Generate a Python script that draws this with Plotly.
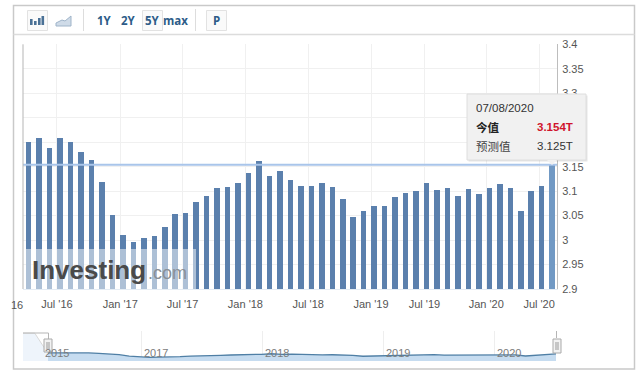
import plotly.graph_objects as go

W, H = 640, 375

# ---- data ----
bar_values = [
    3.199, 3.207, 3.188, 3.207, 3.199, 3.179, 3.164, 3.119, 3.051, 3.010,
    2.996, 3.004, 3.008, 3.027, 3.053, 3.055, 3.078, 3.090, 3.105, 3.108,
    3.117, 3.137, 3.160, 3.131, 3.141, 3.123, 3.109, 3.109, 3.115, 3.108,
    3.084, 3.047, 3.059, 3.068, 3.068, 3.088, 3.096, 3.100, 3.117, 3.102,
    3.106, 3.090, 3.104, 3.094, 3.106, 3.113, 3.106, 3.059, 3.100, 3.109,
    3.154,
]
bar_index = list(range(len(bar_values)))
tick_index = [2.7, 8.75, 14.7, 20.7, 26.7, 32.7, 37.8, 43.7, 48.75]
tick_labels = ["Jul '16", "Jan '17", "Jul '17", "Jan '18", "Jul '18",
               "Jan '19", "Jul '19", "Jan '20", "Jul '20"]
y_ticks = [2.9, 2.95, 3.0, 3.05, 3.1, 3.15, 3.2, 3.25, 3.3, 3.35, 3.4]
y_labels = ["2.9", "2.95", "3", "3.05", "3.1", "3.15", "", "", "3.3", "3.35", "3.4"]
nav_early_index = [-2.46, -1.3, -0.6, 0]
nav_early_values = [4.1, 4.1, 3.6, bar_values[0]]
nav_years = ["2015", "2017", "2018", "2019", "2020"]
nav_year_px = [57, 156, 277, 398, 509]
tip_date = "07/08/2020"
tip_actual = "3.154T"
tip_forecast = "3.125T"

# ---- pixel helpers (chrome only) ----
def px(x): return x / W
def py(y): return 1 - y / H

shapes, annos = [], []

def rect(x0, y0, x1, y1, fill=None, line=None, lw=1, opacity=1, layer="above"):
    shapes.append(dict(type="rect", xref="paper", yref="paper",
                       x0=px(x0), x1=px(x1), y0=py(y0), y1=py(y1),
                       fillcolor=fill or "rgba(0,0,0,0)",
                       line=dict(color=line or "rgba(0,0,0,0)", width=lw if line else 0),
                       opacity=opacity, layer=layer))

def seg(x0, y0, x1, y1, color, lw=1, layer="above"):
    shapes.append(dict(type="line", xref="paper", yref="paper",
                       x0=px(x0), x1=px(x1), y0=py(y0), y1=py(y1),
                       line=dict(color=color, width=lw), layer=layer))

def text(x, y, s, size=11, color="#555", bold=False, family="Liberation Sans, Arial", anchor="center", opacity=1):
    annos.append(dict(xref="paper", yref="paper", x=px(x), y=py(y), text=f"<b>{s}</b>" if bold else s,
                      showarrow=False, xanchor=anchor, yanchor="middle", opacity=opacity,
                      font=dict(size=size, color=color, family=family),
                      borderpad=0, borderwidth=0))

# outer frame
rect(13.5, 5.5, 634.5, 369, line="#c9c9c9", lw=1.5, layer="below")
seg(13.5, 34.5, 634.5, 34.5, "#dcdcdc", 1.5, "below")

# toolbar
NAVY = "#2d5c88"
rect(27.5, 10.5, 47.5, 30.5, fill="#fafafa", line="#e2e2e2")
for x0, y0 in [(30, 19), (34, 21), (38, 18), (41.5, 16)]:
    rect(x0, y0, x0 + 2.6, 25, fill="#4a7196")
shapes.append(dict(type="path", xref="paper", yref="paper",
                   path=f"M {px(56)} {py(23)} L {px(62)} {py(20)} L {px(65)} {py(21)} L {px(71)} {py(16)} L {px(71)} {py(26)} L {px(56)} {py(26)} Z",
                   fillcolor="#cfdbe8", line=dict(color="#9fb4c9", width=1)))
seg(83.5, 9, 83.5, 31, "#dddddd")
seg(195.5, 9, 195.5, 31, "#dddddd")
rect(142.5, 10.5, 162.5, 30.5, fill="#fafafa", line="#e2e2e2")
rect(206.5, 10.5, 226.5, 30.5, fill="#fafafa", line="#e2e2e2")
for x, s in [(104, "1Y"), (128, "2Y"), (152, "5Y"), (175, "max"), (216.5, "P")]:
    text(x, 20.5, s, size=11.5, color=NAVY, bold=True, family="Open Sans")

# watermark
rect(26, 249, 196, 289, fill="rgba(255,255,255,0.5)")
text(32, 270, "Investing", size=26, color="#4a4a4a", bold=True, anchor="left", family="Liberation Sans")
text(148, 273, ".com", size=18, color="#8a8f96", anchor="left", family="Liberation Sans")

# clipped first tick label
text(22.5, 305, "16", size=11, anchor="right")

# latest value line
shapes.append(dict(type="line", xref="paper", yref="y", x0=px(23), x1=px(557),
                   y0=bar_values[-1], y1=bar_values[-1],
                   line=dict(color="#a9c5ea", width=2), layer="above"))

# tooltip
rect(468.5, 95.5, 587.5, 161.5, fill="rgba(0,0,0,0.10)")
rect(467, 94, 586, 160, fill="#f1f1f1", line="#dedede")
shapes.append(dict(type="path", xref="paper", yref="paper",
                   path=f"M {px(547)} {py(160)} L {px(552)} {py(165)} L {px(557)} {py(160)} Z",
                   fillcolor="#f1f1f1", line=dict(color="#f1f1f1", width=0)))
CJK = "Noto Sans CJK SC"
text(476, 108, tip_date, size=11.5, color="#333", family="Liberation Sans", anchor="left")
text(476, 127, "今值", size=11.5, color="#222", bold=True, family=CJK, anchor="left")
text(573, 127, tip_actual, size=11.5, color="#d0142c", bold=True, family="Liberation Sans", anchor="right")
text(476, 146, "预测值", size=11.5, color="#444", family=CJK, anchor="left")
text(573, 146, tip_forecast, size=11.5, color="#333", family="Liberation Sans", anchor="right")

# navigator chrome
for x in [141, 262, 383, 494]:
    seg(x + 0.5, 331, x + 0.5, 360, "#eeeeee", 1, "below")
for x, s in zip(nav_year_px, nav_years):
    text(x, 353, s, size=11, color="#7c7c7c")
seg(23, 333, 48.5, 333, "#b5b5b5")
seg(48.5, 333, 48.5, 339, "#b5b5b5")
seg(556.5, 331, 556.5, 338, "#b5b5b5")
for x0, y0, y1 in [(44, 339, 352), (553, 339, 353)]:
    rect(x0, y0, x0 + 8, y1, fill="#f2f2f2", line="#aaaaaa")
    seg(x0 + 3, y0 + 3, x0 + 3, y1 - 3, "#999999")
    seg(x0 + 5, y0 + 3, x0 + 5, y1 - 3, "#999999")

shapes.append(dict(type="line", xref="paper", yref="paper", x0=px(23), x1=px(23), y0=py(289), y1=py(44.3),
                   line=dict(color="#b5b5b5", width=1), layer="above"))

# ---- traces ----
bar_colors = ["#5b80ad"] * (len(bar_values) - 1) + ["#7199c4"]
fig = go.Figure()
fig.add_trace(go.Bar(x=bar_index, y=bar_values, width=0.53, marker=dict(color=bar_colors, line=dict(width=0)),
                     xaxis="x", yaxis="y", showlegend=False))
fig.add_trace(go.Scatter(x=nav_early_index, y=nav_early_values, mode="lines",
                         line=dict(color="#d9d9d9", width=1), fill="tozeroy", fillcolor="#eef4fb",
                         xaxis="x2", yaxis="y2", showlegend=False))
fig.add_trace(go.Scatter(x=bar_index, y=bar_values, mode="lines",
                         line=dict(color="#4f7fa5", width=1.3), fill="tozeroy", fillcolor="#c6dcf0",
                         xaxis="x2", yaxis="y2", showlegend=False))

fig.update_layout(
    width=W, height=H, autosize=False,
    margin=dict(l=0, r=0, t=0, b=0, pad=0, autoexpand=False),
    paper_bgcolor="white", plot_bgcolor="white",
    bargap=0,
    shapes=shapes, annotations=annos,
    font=dict(family="Liberation Sans, Arial", size=11, color="#555"),
    xaxis=dict(domain=[px(23), px(557)], range=[-0.54, 50.46], anchor="y", automargin=False,
               tickmode="array", tickvals=tick_index, ticktext=tick_labels,
               showgrid=True, gridcolor="#f0f0f0", gridwidth=1, zeroline=False,
               showline=True, linecolor="#e4ecf4", ticks="outside", ticklen=5, tickcolor="rgba(0,0,0,0)",
               tickfont=dict(size=11, color="#555")),
    yaxis=dict(domain=[py(289), py(44.3)], range=[2.9, 3.4], anchor="x", side="right", automargin=False,
               tickmode="array", tickvals=y_ticks, ticktext=y_labels,
               showgrid=True, gridcolor="#f0f0f0", gridwidth=1, zeroline=False,
               showline=True, linecolor="#bdbdbd", linewidth=1, ticks="outside", ticklen=2,
               tickcolor="rgba(0,0,0,0)", tickfont=dict(size=11, color="#555")),
    xaxis2=dict(domain=[px(23), px(556)], range=[-2.46, 50], anchor="y2", visible=False),
    yaxis2=dict(domain=[py(361), py(331)], range=[2.83, 4.2], anchor="x2", visible=False),
)

fig.write_html("out.html", config={"displayModeBar": False},
               post_script="document.body.style.margin='0';document.body.style.overflow='hidden';")
